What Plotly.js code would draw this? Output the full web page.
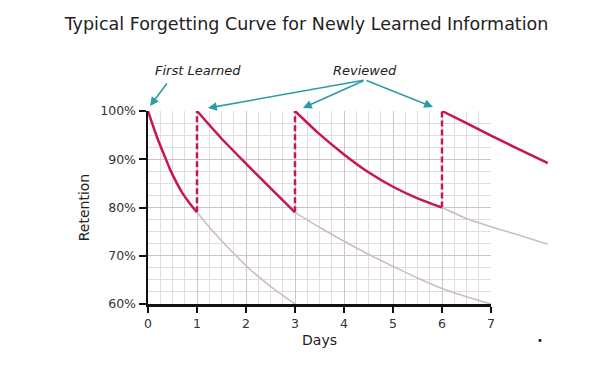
<!DOCTYPE html>
<html>
<head>
<meta charset="utf-8">
<script src="https://cdn.plot.ly/plotly-3.0.1.min.js"></script>
<style>html,body{margin:0;padding:0;background:#fff;}#chart{width:607px;height:367px;}</style>
</head>
<body>
<div id="chart"></div>
<script>
// ---- data ----
const dayTicks = [0, 1, 2, 3, 4, 5, 6, 7];
const retentionTicks = [60, 70, 80, 90, 100];
const retentionLabels = ['60%', '70%', '80%', '90%', '100%'];

// retained memory after each (re)learning (red)
const learn1X = [0, 0.1, 0.21, 0.33, 0.45, 0.57, 0.69, 0.85, 1];
const learn1Y = [100, 97.0, 93.9, 90.9, 87.9, 85.4, 83.2, 80.9, 79];
const learn2X = [1, 1.5, 2, 2.5, 3];
const learn2Y = [100, 94.3, 89.1, 84.0, 79];
const learn3X = [3, 3.5, 4, 4.5, 5, 5.5, 6];
const learn3Y = [100, 95.2, 91.0, 87.3, 84.3, 81.9, 80];
const learn4X = [6, 6.5, 7, 7.5, 8.16];
const learn4Y = [100, 97.5, 94.9, 92.4, 89.2];

// forgetting without review (grey)
const fade1X = [1, 1.27, 1.67, 2.08, 2.56, 3];
const fade1Y = [79, 75.7, 71.3, 67.2, 63.2, 60];
const fade2X = [3, 3.5, 4, 4.5, 5, 5.5, 6, 6.5, 7];
const fade2Y = [79, 75.9, 73.0, 70.3, 67.8, 65.4, 63.2, 61.5, 60];
const fade3X = [6, 6.5, 7, 7.5, 8.16];
const fade3Y = [80, 77.7, 76.0, 74.5, 72.4];

// review jumps (dashed)
const reviewDays = [1, 3, 6];
const reviewFrom = [79, 79, 80];
const reviewTo = [100, 100, 100];

const red = '#c8164e';
const grey = '#cbbcc6';
const teal = '#2b9ca6';
const font = 'DejaVu Sans, Verdana, sans-serif';

const traces = [];
for (let i = 0; i < reviewDays.length; i++) {
  traces.push({
    x: [reviewDays[i], reviewDays[i]], y: [reviewFrom[i], reviewTo[i]],
    xaxis: 'x', yaxis: 'y', mode: 'lines', hoverinfo: 'skip',
    line: {color: red, width: 2.5, dash: '6px,3px'}
  });
}
[[fade1X, fade1Y], [fade2X, fade2Y], [fade3X, fade3Y]].forEach(([x, y]) => {
  traces.push({x, y, xaxis: 'x2', yaxis: 'y2', mode: 'lines', hoverinfo: 'skip',
    line: {color: grey, width: 1.6, shape: 'spline', smoothing: 0.6}});
});
[[learn1X, learn1Y], [learn2X, learn2Y], [learn3X, learn3Y], [learn4X, learn4Y]].forEach(([x, y]) => {
  traces.push({x, y, xaxis: 'x2', yaxis: 'y2', mode: 'lines', hoverinfo: 'skip',
    line: {color: red, width: 2.5, shape: 'spline', smoothing: 0.6}});
});

const xFull = 8.163;
const layout = {
  width: 607, height: 367,
  margin: {l: 148, r: 59, t: 111, b: 63},
  paper_bgcolor: '#ffffff', plot_bgcolor: 'rgba(0,0,0,0)',
  showlegend: false, hovermode: false,
  font: {family: font, color: '#222', size: 12},
  title: {text: 'Typical Forgetting Curve for Newly Learned Information',
    x: 0.505, xanchor: 'center', y: 0.935, yanchor: 'middle',
    font: {family: font, size: 17.5, color: '#222'}},
  xaxis: {
    domain: [0, 7 / xFull], range: [0, 7], anchor: 'y',
    tickmode: 'array', tickvals: dayTicks, ticktext: dayTicks.map(String),
    ticks: 'outside', ticklen: 6, tickwidth: 2, tickcolor: '#111',
    showline: true, linecolor: '#111', linewidth: 2.5,
    showgrid: true, gridcolor: '#cdc5ca', gridwidth: 1,
    minor: {dtick: 0.25, showgrid: true, gridcolor: '#e2dbe0', gridwidth: 1, ticks: ''},
    zeroline: false, tickfont: {family: font, size: 12.5, color: '#333'},
    title: {text: 'Days', font: {family: font, size: 14, color: '#222'}, standoff: 6}
  },
  yaxis: {
    domain: [0, 1], range: [60, 100], anchor: 'x',
    tickmode: 'array', tickvals: retentionTicks, ticktext: retentionLabels,
    ticks: 'outside', ticklen: 7, tickwidth: 2, tickcolor: '#111',
    showline: true, linecolor: '#111', linewidth: 2.5,
    showgrid: true, gridcolor: '#cdc5ca', gridwidth: 1,
    minor: {dtick: 2.5, showgrid: true, gridcolor: '#e2dbe0', gridwidth: 1, ticks: ''},
    zeroline: false, tickfont: {family: font, size: 12.5, color: '#333'},
    title: {text: 'Retention', font: {family: font, size: 14, color: '#222'}, standoff: 8}
  },
  xaxis2: {domain: [0, 1], range: [0, xFull], anchor: 'y2', visible: false, showgrid: false, zeroline: false},
  yaxis2: {domain: [0, 1], range: [60, 100], anchor: 'x2', visible: false, showgrid: false, zeroline: false},
  annotations: [
    {xref: 'paper', yref: 'paper', x: 0.125, y: 1.212, xanchor: 'center', yanchor: 'middle',
      text: 'First Learned', showarrow: false,
      font: {family: font, size: 13, color: '#222', style: 'italic'}},
    {xref: 'paper', yref: 'paper', x: 0.5425, y: 1.212, xanchor: 'center', yanchor: 'middle',
      text: 'Reviewed', showarrow: false,
      font: {family: font, size: 13, color: '#222', style: 'italic'}},
    {xref: 'paper', yref: 'paper', x: 0.005, y: 1.026, ax: 18, ay: -24, text: '', showarrow: true,
      arrowhead: 2, arrowsize: 1.1, arrowwidth: 1.6, arrowcolor: teal},
    {xref: 'paper', yref: 'paper', x: 0.15, y: 1.0155, ax: 157, ay: -28, text: '', showarrow: true,
      arrowhead: 2, arrowsize: 1.1, arrowwidth: 1.6, arrowcolor: teal},
    {xref: 'paper', yref: 'paper', x: 0.3875, y: 1.0155, ax: 62, ay: -28, text: '', showarrow: true,
      arrowhead: 2, arrowsize: 1.1, arrowwidth: 1.6, arrowcolor: teal},
    {xref: 'paper', yref: 'paper', x: 0.7125, y: 1.0207, ax: -68, ay: -27, text: '', showarrow: true,
      arrowhead: 2, arrowsize: 1.1, arrowwidth: 1.6, arrowcolor: teal},
    {xref: 'paper', yref: 'paper', x: 0.98, y: -0.19, xanchor: 'center', yanchor: 'middle',
      text: '•', showarrow: false, font: {family: font, size: 10, color: '#111'}}
  ]
};

Plotly.newPlot('chart', traces, layout, {staticPlot: true, displayModeBar: false});
</script>
</body>
</html>
